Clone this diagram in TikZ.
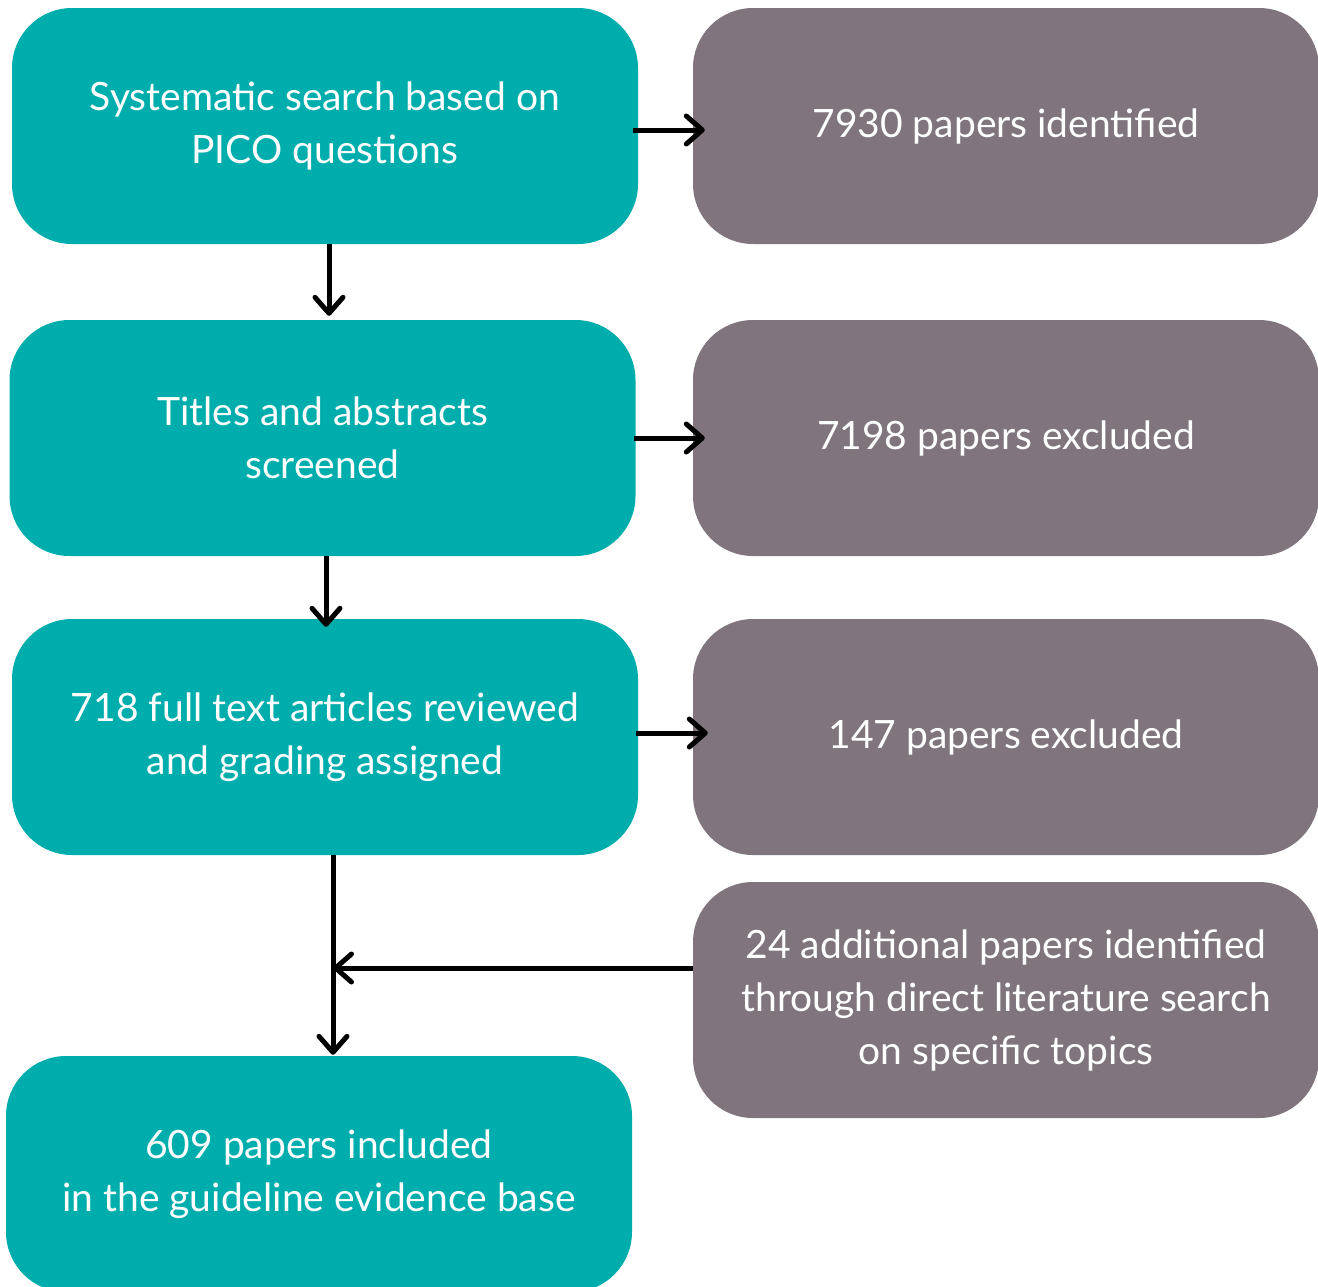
\documentclass[tikz,border=0pt]{standalone}
\usepackage{fontspec}
\setmainfont{Lato}
\usetikzlibrary{arrows.meta}
\definecolor{boxteal}{RGB}{0,173,173}
\definecolor{boxgrey}{RGB}{128,117,125}
\begin{document}
\begin{tikzpicture}[x=1pt,y=-1pt,
  box/.style={rounded corners=60pt, minimum width=626pt, minimum height=236pt, inner sep=0pt,
    text=white, font=\fontsize{39}{53}\selectfont, align=center},
  tbox/.style={box, fill=boxteal},
  gbox/.style={box, fill=boxgrey},
  arr/.style={line width=5pt, -{Straight Barb[length=16pt,width=28pt,line cap=round,line join=round]}}]
\useasboundingbox (0,0) rectangle (1318,1286);
\node[tbox] (b1) at (325,126) {Systematic search based on\\PICO questions};
\node[tbox] (b2) at (322.5,438) {Titles and abstracts\\screened};
\node[tbox] (b3) at (325,737) {718 full text articles reviewed\\and grading assigned};
\node[tbox] (b4) at (319,1174) {609 papers included\\in the guideline evidence base};
\node[gbox] (g1) at (1006,126) {7930 papers identified};
\node[gbox] (g2) at (1006,438) {7198 papers excluded};
\node[gbox] (g3) at (1006,737) {147 papers excluded};
\node[gbox] (g4) at (1006,1000) {24 additional papers identified\\through direct literature search\\on specific topics};
\draw[arr] ([xshift=-5pt,yshift=-4pt]b1.east) -- ([xshift=12pt,yshift=-4pt]g1.west);
\draw[arr] ([xshift=-2pt]b2.east) -- ([xshift=12pt]g2.west);
\draw[arr] ([xshift=-2pt,yshift=4pt]b3.east) -- ([xshift=15pt,yshift=4pt]g3.west);
\draw[arr] ([xshift=4pt]b1.south) -- ([xshift=6.5pt,yshift=4pt]b2.north);
\draw[arr] ([xshift=3.5pt]b2.south) -- ([xshift=1pt,yshift=-8pt]b3.north);
\coordinate (v3a) at ([xshift=8pt]b3.south);
\draw[arr] (v3a) -- ([xshift=14pt,yshift=1pt]b4.north);
\coordinate (h) at ([yshift=32pt]g4.west);
\draw[arr] (h) -- (h -| v3a);
\end{tikzpicture}
\end{document}
